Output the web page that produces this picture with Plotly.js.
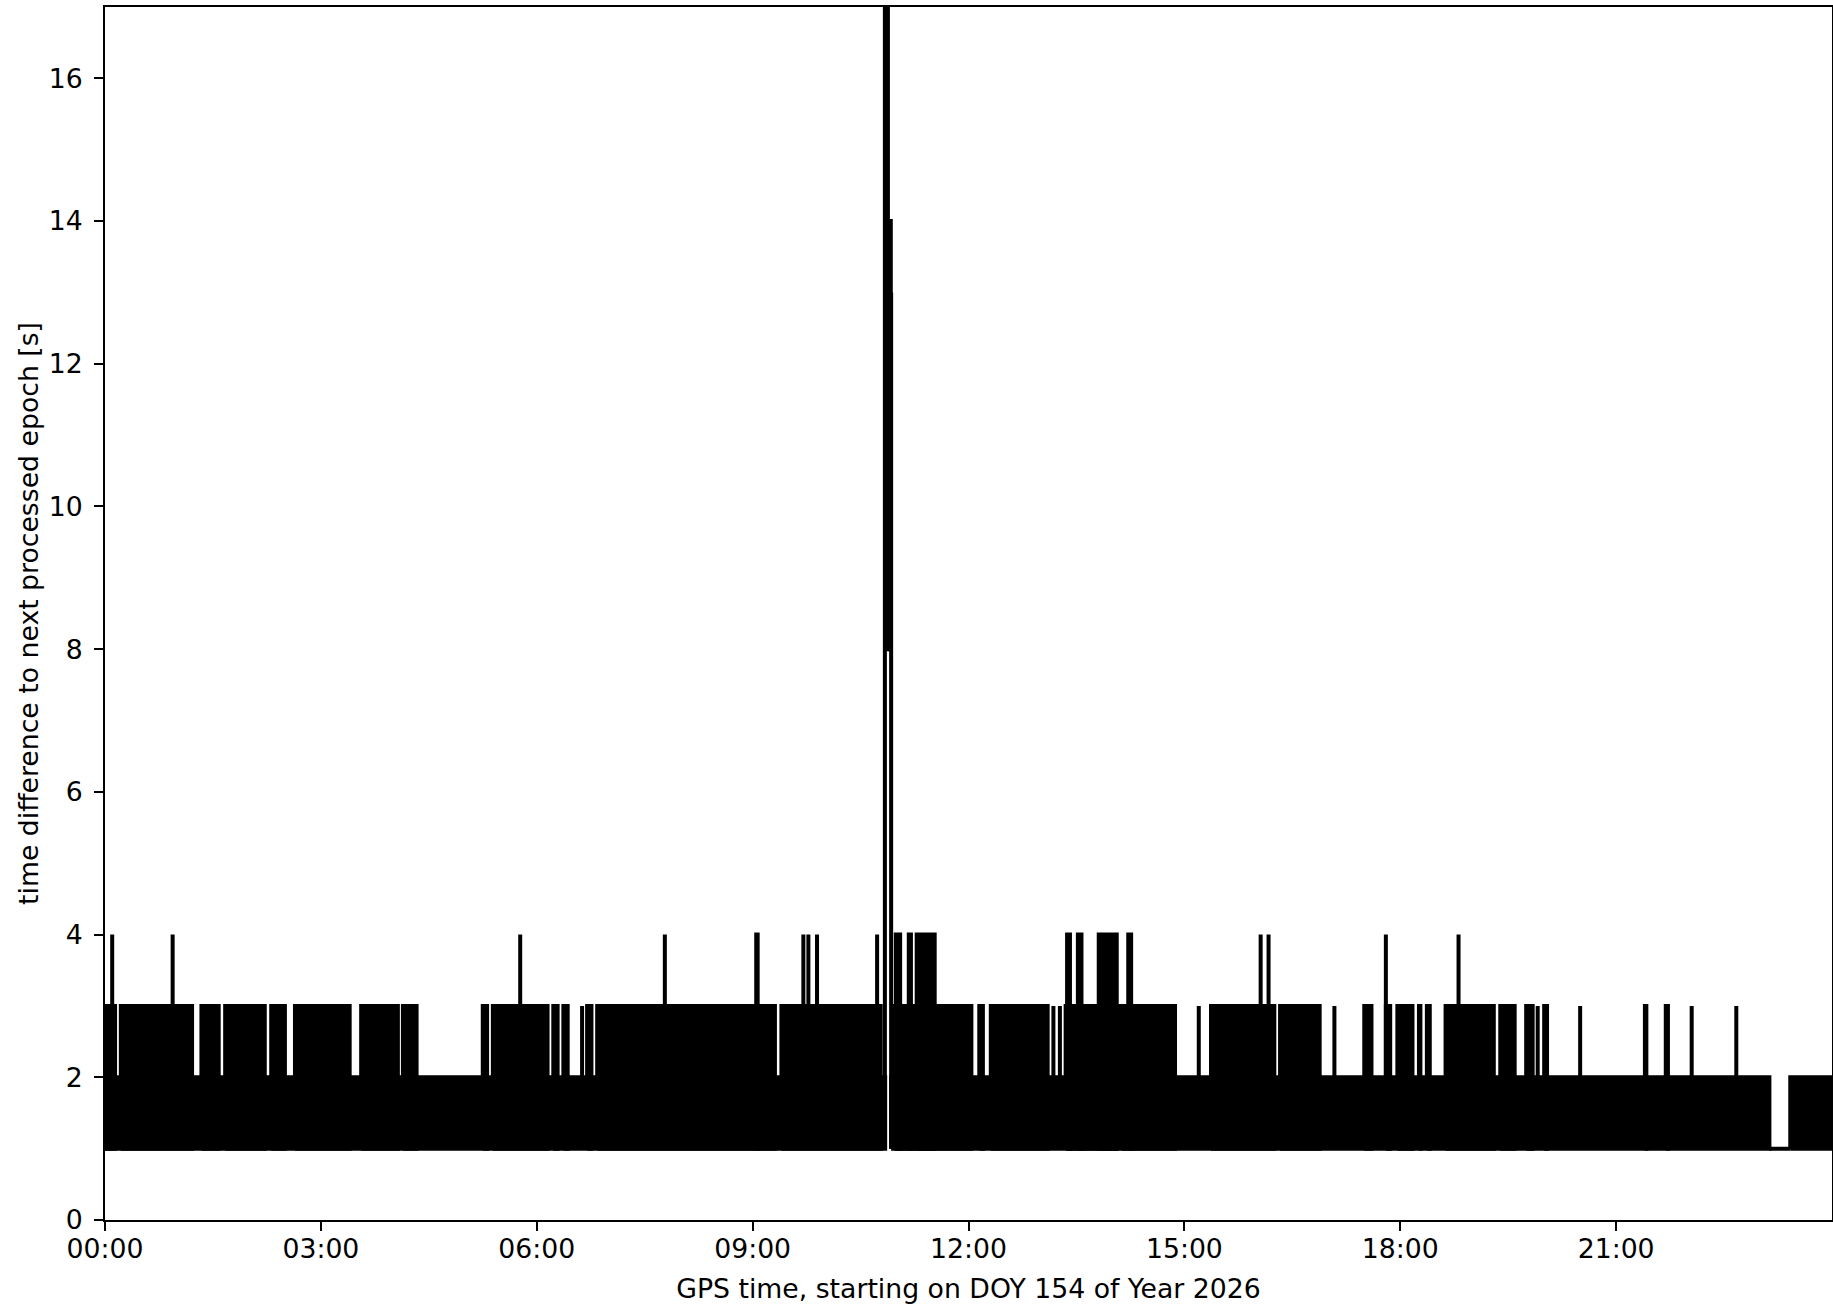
<!DOCTYPE html>
<html>
<head>
<meta charset="utf-8">
<script src="https://cdn.plot.ly/plotly-3.0.1.min.js"></script>
<style>
html, body { margin: 0; padding: 0; background: #ffffff; }
#chart { width: 1833px; height: 1304px; }
</style>
</head>
<body>
<div id="chart"></div>
<script>
// ---- data (hours of day, seconds) ----
// Tick labels
const xTickVals = [0, 3, 6, 9, 12, 15, 18, 21];
const xTickText = ["00:00", "03:00", "06:00", "09:00", "12:00", "15:00", "18:00", "21:00"];
const yTickVals = [0, 2, 4, 6, 8, 10, 12, 14, 16];

// Base epoch-interval band (values alternate between low and high)
const baseStart = [0.00, 10.925, 14.060, 14.125, 23.130, 23.420];
const baseEnd   = [10.842, 14.060, 14.125, 23.130, 23.420, 24.00];
const baseLow   = [1, 1, 2, 1, 1, 1];
const baseHigh  = [2, 2, 2, 2, 1, 2];

// Intervals where the time difference reaches 3 s
const lvl3Start = [0.00, 0.22, 1.34, 1.67, 2.31, 2.64, 3.56, 4.14, 5.25, 5.39, 6.23, 6.37, 6.63, 6.70, 6.84, 9.40, 10.97, 12.15, 12.31, 13.18, 13.27, 13.35, 15.20, 15.37, 16.33, 17.085, 17.50, 17.80, 17.96, 18.26, 18.37, 18.63, 19.39, 19.75, 19.91, 20.00, 20.50, 21.40, 21.69, 22.05, 22.67];
const lvl3End   = [0.14, 1.21, 1.58, 2.22, 2.50, 3.40, 4.07, 4.33, 5.31, 6.15, 6.29, 6.43, 6.63, 6.76, 9.31, 10.78, 12.04, 12.20, 13.10, 13.18, 13.27, 14.87, 15.20, 16.25, 16.88, 17.085, 17.60, 17.86, 18.17, 18.28, 18.41, 19.30, 19.59, 19.84, 19.91, 20.04, 20.50, 21.42, 21.72, 22.06, 22.68];
const lvl3Low = 1, lvl3High = 3;

// Intervals where the time difference reaches 4 s
const lvl4Start = [0.10, 0.94, 5.77, 7.78, 9.05, 9.705, 9.775, 9.895, 10.73, 10.99, 11.17, 11.28, 13.37, 13.52, 13.81, 14.22, 16.06, 16.17, 17.80, 18.81];
const lvl4End   = [0.10, 0.94, 5.77, 7.78, 9.07, 9.705, 9.775, 9.895, 10.73, 11.05, 11.20, 11.53, 13.41, 13.57, 14.06, 14.26, 16.06, 16.18, 17.80, 18.81];
const lvl4Low = 1, lvl4High = 4;

// Outage burst around 10:50
const burstStart = [10.838, 10.842, 10.880, 10.925];
const burstEnd   = [10.842, 10.880, 10.920, 10.925];
const burstLow   = [1, 8, 8, 1];
const burstHigh  = [17, 17, 14, 13];

// ---- build the traces ----
function bandTrace(starts, ends, lows, highs) {
  const xs = [], ys = [];
  for (let i = 0; i < starts.length; i++) {
    const lo = Array.isArray(lows) ? lows[i] : lows;
    const hi = Array.isArray(highs) ? highs[i] : highs;
    xs.push(starts[i], starts[i], ends[i], ends[i], starts[i], null);
    ys.push(lo, hi, hi, lo, lo, null);
  }
  return {
    type: "scatter", mode: "lines", x: xs, y: ys,
    fill: "toself", fillcolor: "#000000",
    line: { color: "#000000", width: 4 },
    connectgaps: false, hoverinfo: "skip", showlegend: false
  };
}

const traces = [
  bandTrace(baseStart, baseEnd, baseLow, baseHigh),
  bandTrace(lvl3Start, lvl3End, lvl3Low, lvl3High),
  bandTrace(lvl4Start, lvl4End, lvl4Low, lvl4High),
  bandTrace(burstStart, burstEnd, burstLow, burstHigh)
];

const font = { family: "DejaVu Sans, Liberation Sans, sans-serif", size: 26.7, color: "#000000" };

const axisCommon = {
  showgrid: false, zeroline: false,
  showline: true, linecolor: "#000000", linewidth: 2, mirror: true,
  ticks: "outside", ticklen: 9, tickwidth: 2, tickcolor: "#000000",
  tickfont: font, automargin: false, fixedrange: true
};

const layout = {
  width: 1833, height: 1304,
  margin: { l: 105, r: 1, t: 7, b: 84, pad: 0 },
  paper_bgcolor: "#ffffff", plot_bgcolor: "#ffffff",
  showlegend: false,
  xaxis: Object.assign({}, axisCommon, {
    range: [0, 24], tickmode: "array", tickvals: xTickVals, ticktext: xTickText,
    ticklabelstandoff: -5,
    title: { text: "GPS time, starting on DOY 154 of Year 2026", font: font, standoff: 16 }
  }),
  yaxis: Object.assign({}, axisCommon, {
    range: [0, 17], tickmode: "array", tickvals: yTickVals,
    ticklabelstandoff: 6,
    title: { text: "time difference to next processed epoch [s]", font: font, standoff: 2 }
  })
};

Plotly.newPlot("chart", traces, layout, { staticPlot: true, displayModeBar: false });
</script>
</body>
</html>
